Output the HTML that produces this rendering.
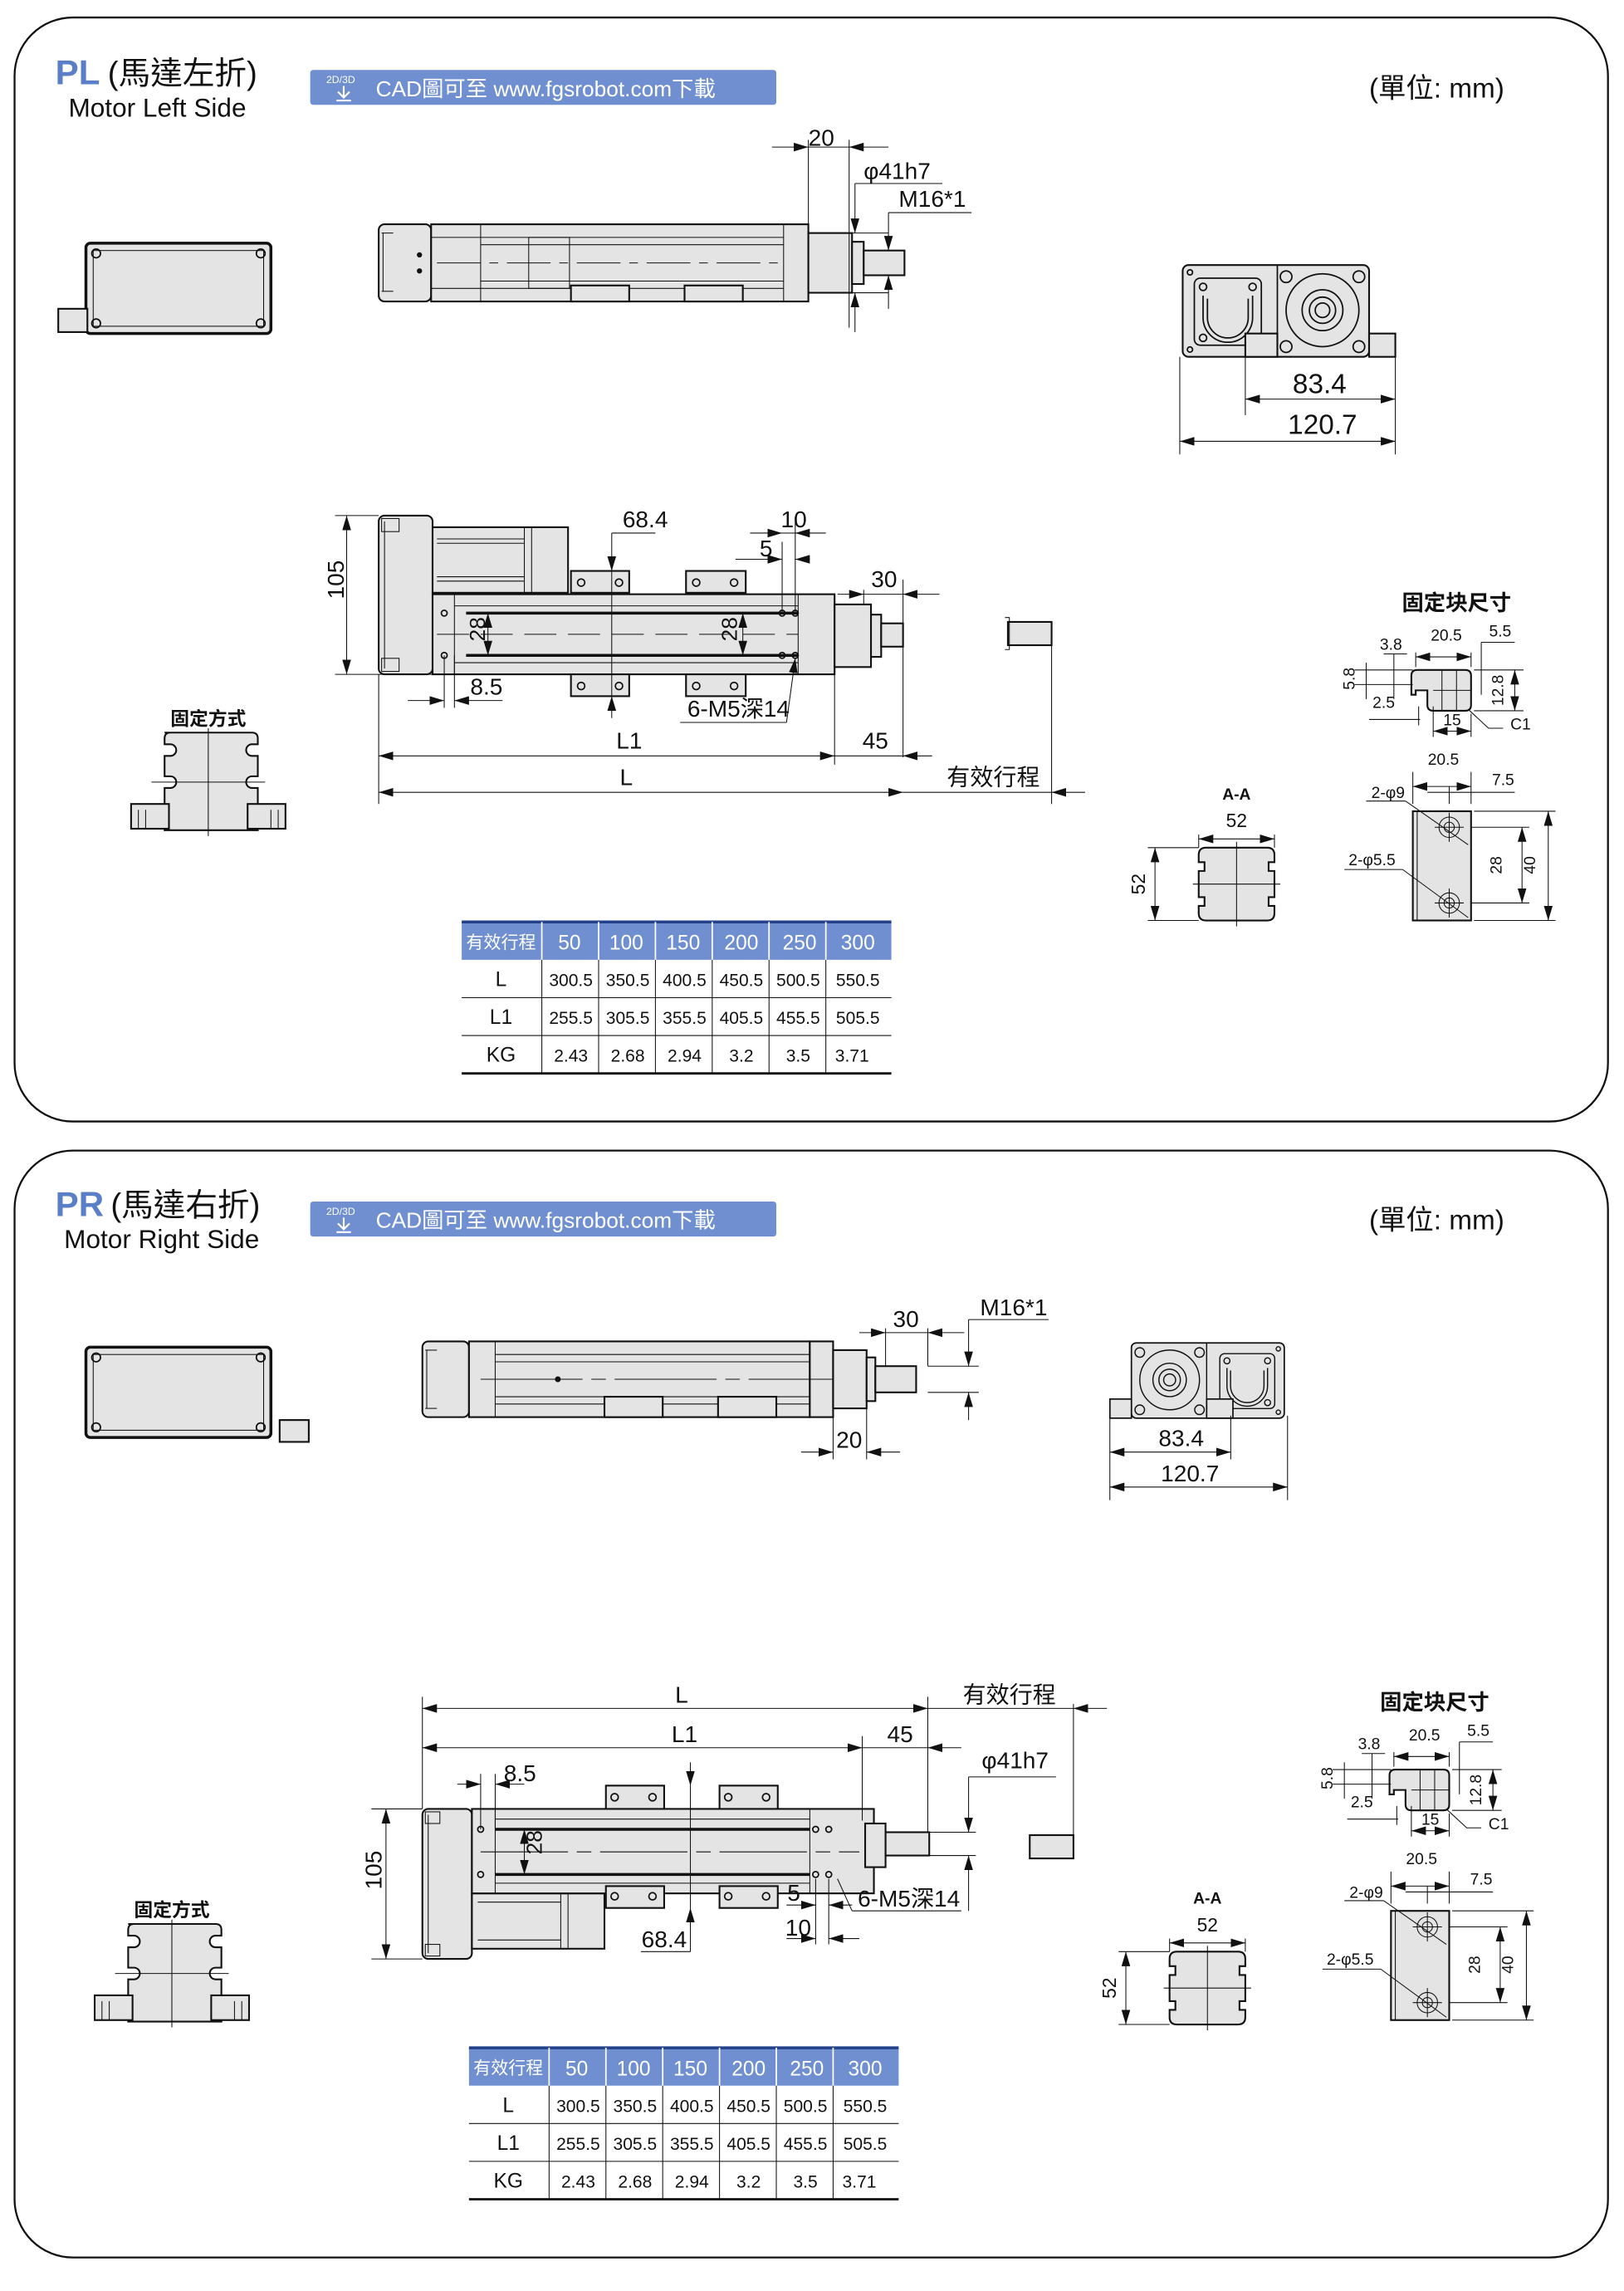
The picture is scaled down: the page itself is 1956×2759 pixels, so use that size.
<!DOCTYPE html>
<html><head><meta charset="utf-8"><style>
html,body{margin:0;padding:0;background:#fff}
svg{display:block}
text{font-family:"Liberation Sans","Noto Sans CJK TC",sans-serif;fill:#111}
.s{stroke:#111;stroke-width:1;fill:none}
.g{stroke:#111;stroke-width:1.2;fill:#e4e4e4}
.t{stroke:#111;stroke-width:.6;fill:none}
.th{stroke:#111;stroke-width:2;fill:none}
</style></head><body>
<svg width="1956" height="2759" viewBox="0 0 1115 1573" preserveAspectRatio="none" xmlns="http://www.w3.org/2000/svg">
<defs>
<marker id="a" viewBox="0 0 10 6" refX="10" refY="3" markerWidth="10" markerHeight="6" orient="auto-start-reverse" markerUnits="userSpaceOnUse"><path d="M0,0L10,3L0,6z" fill="#111"/></marker>

<g id="tbl">
<rect x="0" y="0" width="295" height="26" fill="#6f8fd0"/>
<line x1="0" y1="0" x2="295" y2="0" stroke="#23408a" stroke-width="2"/>
<g fill="#fff" style="font-size:14px" text-anchor="middle">
<text x="27" y="18" style="font-size:12px;fill:#fff">有效行程</text>
<text x="74" y="19" style="fill:#fff">50</text><text x="113" y="19" style="fill:#fff">100</text><text x="152" y="19" style="fill:#fff">150</text><text x="192" y="19" style="fill:#fff">200</text><text x="232" y="19" style="fill:#fff">250</text><text x="272" y="19" style="fill:#fff">300</text>
</g>
<g stroke="#fff" stroke-width="1"><line x1="55" y1="0" x2="55" y2="26"/><line x1="94" y1="0" x2="94" y2="26"/><line x1="133" y1="0" x2="133" y2="26"/><line x1="172" y1="0" x2="172" y2="26"/><line x1="211" y1="0" x2="211" y2="26"/><line x1="250" y1="0" x2="250" y2="26"/></g>
<g class="t"><line x1="0" y1="52" x2="295" y2="52"/><line x1="0" y1="78" x2="295" y2="78"/>
<line x1="55" y1="26" x2="55" y2="104"/><line x1="94" y1="26" x2="94" y2="104"/><line x1="133" y1="26" x2="133" y2="104"/><line x1="172" y1="26" x2="172" y2="104"/><line x1="211" y1="26" x2="211" y2="104"/><line x1="250" y1="26" x2="250" y2="104"/></g>
<line x1="0" y1="104" x2="295" y2="104" stroke="#111" stroke-width="1.6"/>
<g style="font-size:12px" text-anchor="middle">
<text x="27" y="44" style="font-size:14px">L</text><text x="27" y="70" style="font-size:14px">L1</text><text x="27" y="96" style="font-size:14px">KG</text>
<text x="75" y="44">300.5</text><text x="114" y="44">350.5</text><text x="153" y="44">400.5</text><text x="192" y="44">450.5</text><text x="231" y="44">500.5</text><text x="272" y="44">550.5</text>
<text x="75" y="70">255.5</text><text x="114" y="70">305.5</text><text x="153" y="70">355.5</text><text x="192" y="70">405.5</text><text x="231" y="70">455.5</text><text x="272" y="70">505.5</text>
<text x="75" y="96">2.43</text><text x="114" y="96">2.68</text><text x="153" y="96">2.94</text><text x="192" y="96">3.2</text><text x="231" y="96">3.5</text><text x="268" y="96">3.71</text>
</g>
</g>

<g id="fb">
<text x="1000" y="419" text-anchor="middle" style="font-size:15px;font-weight:bold">固定块尺寸</text>
<path class="g" d="M973,460 h33 q4,0 4,4 v20 q0,4 -4,4 h-22 q-4,0 -4,-4 v-10 h-8 v3 h-3 v-13 q0,-4 4,-4z"/>
<line class="t" x1="990" y1="460" x2="990" y2="488"/><line class="t" x1="1000" y1="460" x2="1000" y2="488"/><line class="t" x1="984" y1="474" x2="1010" y2="474"/>
<g class="t">
<line x1="972" y1="448" x2="972" y2="458"/><line x1="1010" y1="448" x2="1010" y2="458"/>
<line x1="972" y1="451" x2="1010" y2="451" marker-start="url(#a)" marker-end="url(#a)"/>
<line x1="1017" y1="441" x2="1040" y2="441"/><line x1="1017" y1="441" x2="1017" y2="477"/>
<line x1="1012" y1="460" x2="1046" y2="460"/><line x1="1012" y1="488" x2="1046" y2="488"/><line x1="1040" y1="460" x2="1040" y2="488" marker-start="url(#a)" marker-end="url(#a)"/>
<line x1="950" y1="449" x2="966" y2="449"/><line x1="957" y1="449" x2="957" y2="480"/>
<line x1="930" y1="460" x2="970" y2="460"/><line x1="930" y1="470" x2="970" y2="470"/><line x1="938" y1="455" x2="938" y2="480"/>
<line x1="940" y1="494" x2="975" y2="494"/><line x1="974" y1="485" x2="974" y2="498"/><line x1="984" y1="485" x2="984" y2="506"/>
<line x1="984" y1="502" x2="1010" y2="502" marker-start="url(#a)" marker-end="url(#a)"/><line x1="1010" y1="490" x2="1010" y2="506"/>
<path d="M1008,487 L1022,500 H1032"/>
</g>
<g style="font-size:11px" text-anchor="middle">
<text x="955" y="446">3.8</text><text x="993" y="440">20.5</text><text x="1030" y="437">5.5</text>
<text x="950" y="486">2.5</text><text x="997" y="498">15</text><text x="1044" y="501">C1</text>
<text transform="translate(930,466) rotate(-90)">5.8</text><text transform="translate(1032,474) rotate(-90)">12.8</text>
</g>
<rect class="g" x="970" y="557" width="40" height="75"/>
<line class="t" x1="973" y1="557" x2="973" y2="632"/>
<g class="t"><circle cx="995" cy="568" r="7"/><circle cx="995" cy="568" r="3.5"/><circle cx="995" cy="620" r="7"/><circle cx="995" cy="620" r="3.5"/>
<line x1="995" y1="558" x2="995" y2="578"/><line x1="985" y1="568" x2="1005" y2="568"/><line x1="995" y1="610" x2="995" y2="630"/><line x1="985" y1="620" x2="1005" y2="620"/>
<line x1="970" y1="530" x2="970" y2="552"/><line x1="1010" y1="530" x2="1010" y2="552"/><line x1="970" y1="540" x2="1010" y2="540" marker-start="url(#a)" marker-end="url(#a)"/>
<line x1="980" y1="544" x2="1040" y2="544"/><line x1="995" y1="540" x2="995" y2="552"/>
<line x1="938" y1="550" x2="965" y2="550"/><line x1="965" y1="550" x2="1008" y2="580"/>
<line x1="923" y1="597" x2="963" y2="597"/><line x1="963" y1="597" x2="1008" y2="630"/>
<line x1="1010" y1="568" x2="1050" y2="568"/><line x1="1010" y1="620" x2="1050" y2="620"/><line x1="1045" y1="568" x2="1045" y2="620" marker-start="url(#a)" marker-end="url(#a)"/>
<line x1="1012" y1="557" x2="1068" y2="557"/><line x1="1012" y1="632" x2="1068" y2="632"/><line x1="1063" y1="557" x2="1063" y2="632" marker-start="url(#a)" marker-end="url(#a)"/>
</g>
<g style="font-size:11px" text-anchor="middle">
<text x="991" y="525">20.5</text><text x="1032" y="539">7.5</text><text x="953" y="548">2-φ9</text><text x="942" y="594">2-φ5.5</text>
<text transform="translate(1031,594) rotate(-90)">28</text><text transform="translate(1054,594) rotate(-90)">40</text>
</g>
</g>

<g id="aa">
<text x="849" y="549" text-anchor="middle" style="font-size:11px;font-weight:bold">A-A</text>
<text x="849" y="568" text-anchor="middle" style="font-size:13px">52</text>
<line class="t" x1="823" y1="573" x2="823" y2="582"/><line class="t" x1="875" y1="573" x2="875" y2="582"/>
<line class="t" x1="823" y1="576" x2="875" y2="576" marker-start="url(#a)" marker-end="url(#a)"/>
<path class="g" d="M828,582 h42 q5,0 5,5 v5 h-4 v6 h4 v18 h-4 v6 h4 v5 q0,5 -5,5 h-42 q-5,0 -5,-5 v-5 h4 v-6 h-4 v-18 h4 v-6 h-4 v-5 q0,-5 5,-5z"/>
<line class="t" x1="849" y1="578" x2="849" y2="636"/><line class="t" x1="819" y1="607" x2="879" y2="607"/>
<line class="t" x1="788" y1="582" x2="823" y2="582"/><line class="t" x1="788" y1="632" x2="823" y2="632"/>
<line class="t" x1="793" y1="582" x2="793" y2="632" marker-start="url(#a)" marker-end="url(#a)"/>
<text transform="translate(786,607) rotate(-90)" text-anchor="middle" style="font-size:13px">52</text>
</g>

<g id="pf">
<text x="143" y="498" text-anchor="middle" style="font-size:13px;font-weight:bold">固定方式</text>
<path class="g" d="M113,503 h60 q4,0 4,4 v4 h-4 a4,4 0 0 0 0,8 h4 v14 h-4 a4,4 0 0 0 0,8 h4 v29 h-64 v-29 h4 a4,4 0 0 0 0,-8 h-4 v-14 h4 a4,4 0 0 0 0,-8 h-4 v-4 q0,-4 4,-4z"/>
<rect class="g" x="90" y="552" width="26" height="17"/><rect class="g" x="170" y="552" width="26" height="17"/>
<g class="t"><line x1="95" y1="556" x2="95" y2="569"/><line x1="100" y1="556" x2="100" y2="569"/><line x1="186" y1="556" x2="186" y2="569"/><line x1="191" y1="556" x2="191" y2="569"/>
<line x1="143" y1="500" x2="143" y2="574"/><line x1="104" y1="537" x2="182" y2="537"/></g>
</g>

<g id="mb">
<rect x="59" y="167" width="127" height="62" rx="3" fill="#e4e4e4" stroke="#111" stroke-width="2"/>
<rect x="64" y="172" width="117" height="52" class="t"/>
<g class="s"><circle cx="66" cy="174" r="3"/><circle cx="179" cy="174" r="3"/><circle cx="66" cy="222" r="3"/><circle cx="179" cy="222" r="3"/></g>
</g>

<g id="badge">
<rect x="213" y="48" width="320" height="24" rx="2" fill="#6f8fd0"/>
<text x="224" y="57" style="font-size:7px;fill:#fff">2D/3D</text>
<path d="M236,59 v7 M232,63 l4,4 l4,-4 M231,69 h10" stroke="#fff" stroke-width="1.2" fill="none"/>
<text x="258" y="66" style="font-size:15px;fill:#fff">CAD圖可至 www.fgsrobot.com下載</text>
<text x="940" y="67" style="font-size:19px">(單位: mm)</text>
</g>

<g id="ev">
<rect class="g" x="812" y="182" width="128" height="63" rx="4"/>
<line class="s" x1="877" y1="182" x2="877" y2="245"/>
<rect class="s" x="820" y="191" width="46" height="46" rx="4" stroke-width="1.5"/>
<path class="s" stroke-width="1.5" d="M826,203 v15 a17,17 0 0 0 34,0 v-15 M829,205 v13 a14,14 0 0 0 28,0 v-13"/>
<circle class="s" cx="908" cy="213" r="25"/><circle class="s" cx="908" cy="213" r="14" stroke-width="1.5"/><circle class="s" cx="908" cy="213" r="9" stroke-width="2"/><circle class="s" cx="908" cy="213" r="5"/>
<g class="s"><circle cx="883" cy="190" r="4"/><circle cx="933" cy="190" r="4"/><circle cx="883" cy="238" r="4"/><circle cx="933" cy="238" r="4"/>
<circle cx="817" cy="187" r="1.8"/><circle cx="817" cy="240" r="1.8"/><circle cx="826" cy="197" r="2.5"/><circle cx="860" cy="197" r="2.5"/><circle cx="826" cy="232" r="2.5"/><circle cx="860" cy="232" r="2.5"/></g>
<rect class="g" x="855" y="229" width="22" height="16"/>
<rect class="g" x="940" y="229" width="18" height="16"/>
</g>
</defs>

<rect x="10" y="12" width="1094" height="758" rx="40" fill="none" stroke="#111" stroke-width="1.3"/>
<rect x="10" y="790" width="1094" height="760" rx="40" fill="none" stroke="#111" stroke-width="1.3"/>

<!-- TOP PANEL -->
<text x="38" y="58" style="font-size:24px;font-weight:bold;fill:#5b7fc7">PL</text>
<text x="74" y="58" style="font-size:22px">(馬達左折)</text>
<text x="47" y="80" style="font-size:18px">Motor Left Side</text>
<use href="#badge"/>
<use href="#mb"/>
<rect class="g" x="40" y="212" width="20" height="16"/>

<rect class="g" x="260" y="154" width="36" height="53" rx="4"/>
<rect class="g" x="296" y="154" width="259" height="53"/>
<g class="t"><line x1="263" y1="160" x2="263" y2="200"/><line x1="262" y1="160" x2="270" y2="160"/><line x1="262" y1="200" x2="270" y2="200"/>
<line x1="330" y1="154" x2="330" y2="207"/><line x1="538" y1="154" x2="538" y2="207"/>
<line x1="296" y1="163" x2="538" y2="163"/><line x1="296" y1="198" x2="538" y2="198"/>
<line x1="330" y1="168" x2="538" y2="168"/><line x1="330" y1="193" x2="538" y2="193"/>
<rect x="363" y="163" width="28" height="35"/>
<line x1="300" y1="180.5" x2="540" y2="180.5" stroke-dasharray="30 6 6 6"/></g>
<rect class="g" x="392" y="196" width="40" height="11"/><rect class="g" x="470" y="196" width="40" height="11"/>
<g fill="#111"><circle cx="288" cy="175" r="1.8"/><circle cx="288" cy="186" r="1.8"/></g>
<rect class="g" x="555" y="160" width="30" height="41"/>
<rect class="g" x="585" y="166" width="8" height="29"/>
<rect class="g" x="593" y="172" width="28" height="17"/>
<g class="t">
<line x1="555" y1="96" x2="555" y2="155"/><line x1="583" y1="96" x2="583" y2="225"/>
<line x1="530" y1="101" x2="555" y2="101" marker-end="url(#a)"/><line x1="610" y1="101" x2="583" y2="101" marker-end="url(#a)"/>
<line x1="555" y1="101" x2="583" y2="101"/>
<line x1="585" y1="160" x2="610" y2="160"/><line x1="585" y1="201" x2="610" y2="201"/>
<line x1="587" y1="126" x2="647" y2="126"/><line x1="587" y1="126" x2="587" y2="160" marker-end="url(#a)"/><line x1="587" y1="228" x2="587" y2="201" marker-end="url(#a)"/>
<line x1="610" y1="146" x2="667" y2="146"/><line x1="610" y1="146" x2="610" y2="172" marker-end="url(#a)"/><line x1="610" y1="212" x2="610" y2="189" marker-end="url(#a)"/>
</g>
<text x="555" y="100" style="font-size:16px">20</text>
<text x="593" y="123" style="font-size:16px">φ41h7</text>
<text x="617" y="142" style="font-size:16px">M16*1</text>

<use href="#ev"/>
<g class="t">
<line x1="810" y1="245" x2="810" y2="312"/><line x1="855" y1="245" x2="855" y2="285"/><line x1="958" y1="245" x2="958" y2="312"/>
<line x1="855" y1="274" x2="958" y2="274" marker-start="url(#a)" marker-end="url(#a)"/>
<line x1="810" y1="303" x2="958" y2="303" marker-start="url(#a)" marker-end="url(#a)"/>
</g>
<text x="906" y="270" text-anchor="middle" style="font-size:19px">83.4</text>
<text x="908" y="298" text-anchor="middle" style="font-size:19px">120.7</text>

<rect class="g" x="260" y="354" width="37" height="109" rx="4"/>
<g class="t"><line x1="264" y1="358" x2="264" y2="459"/><rect x="262" y="356" width="12" height="9"/><rect x="262" y="452" width="12" height="9"/></g>
<rect class="g" x="297" y="362" width="93" height="45"/>
<g class="t"><line x1="300" y1="370" x2="360" y2="370"/><line x1="300" y1="373" x2="360" y2="373"/><line x1="300" y1="396" x2="360" y2="396"/><line x1="300" y1="399" x2="360" y2="399"/><line x1="360" y1="362" x2="360" y2="407"/><line x1="365" y1="362" x2="365" y2="407"/></g>
<rect class="g" x="297" y="408" width="276" height="55"/>
<g class="t"><line x1="312" y1="408" x2="312" y2="463"/><line x1="548" y1="408" x2="548" y2="463"/>
<line x1="312" y1="416" x2="548" y2="416"/><line x1="312" y1="455" x2="548" y2="455"/></g>
<g class="th"><line x1="320" y1="421" x2="548" y2="421"/><line x1="320" y1="450" x2="548" y2="450"/></g>
<line class="t" x1="300" y1="435.5" x2="548" y2="435.5" stroke-dasharray="22 8"/>
<rect class="g" x="392" y="392" width="40" height="15"/><rect class="g" x="471" y="392" width="41" height="15"/>
<rect class="g" x="392" y="463" width="40" height="15"/><rect class="g" x="471" y="463" width="41" height="15"/>
<g class="s"><circle cx="399" cy="400" r="2.5"/><circle cx="425" cy="400" r="2.5"/><circle cx="478" cy="400" r="2.5"/><circle cx="504" cy="400" r="2.5"/>
<circle cx="399" cy="471" r="2.5"/><circle cx="425" cy="471" r="2.5"/><circle cx="478" cy="471" r="2.5"/><circle cx="504" cy="471" r="2.5"/>
<circle cx="305" cy="421" r="2"/><circle cx="305" cy="450" r="2"/><circle cx="537" cy="421" r="2"/><circle cx="537" cy="450" r="2"/><circle cx="546" cy="421" r="2"/><circle cx="546" cy="450" r="2"/></g>
<rect class="g" x="573" y="415" width="25" height="43"/>
<rect class="g" x="598" y="422" width="7" height="29"/>
<rect class="g" x="605" y="428" width="15" height="16"/>
<rect class="g" x="692" y="427" width="30" height="16"/>
<path class="t" d="M690,424 h3 v22 h-3"/>
<g class="t">
<line x1="230" y1="354" x2="260" y2="354"/><line x1="230" y1="463" x2="297" y2="463"/>
<line x1="238" y1="354" x2="238" y2="463" marker-start="url(#a)" marker-end="url(#a)"/>
<line x1="420" y1="366" x2="450" y2="366"/><line x1="420" y1="366" x2="420" y2="392" marker-end="url(#a)"/><line x1="420" y1="493" x2="420" y2="478" marker-end="url(#a)"/><line x1="420" y1="392" x2="420" y2="478"/>
<line x1="537" y1="372" x2="537" y2="420"/><line x1="546" y1="355" x2="546" y2="420"/>
<line x1="515" y1="366" x2="537" y2="366" marker-end="url(#a)"/><line x1="567" y1="366" x2="546" y2="366" marker-end="url(#a)"/><line x1="537" y1="366" x2="546" y2="366"/>
<line x1="505" y1="384" x2="537" y2="384" marker-end="url(#a)"/><line x1="556" y1="384" x2="546" y2="384" marker-end="url(#a)"/>
<line x1="593" y1="405" x2="593" y2="415"/><line x1="620" y1="398" x2="620" y2="520"/>
<line x1="575" y1="408" x2="593" y2="408" marker-end="url(#a)"/><line x1="645" y1="408" x2="620" y2="408" marker-end="url(#a)"/><line x1="593" y1="408" x2="620" y2="408"/>
<line x1="335" y1="421" x2="335" y2="450" marker-start="url(#a)" marker-end="url(#a)"/>
<line x1="510" y1="421" x2="510" y2="450" marker-start="url(#a)" marker-end="url(#a)"/>
<line x1="305" y1="450" x2="305" y2="486"/><line x1="312" y1="450" x2="312" y2="486"/>
<line x1="280" y1="481" x2="305" y2="481" marker-end="url(#a)"/><line x1="345" y1="481" x2="312" y2="481" marker-end="url(#a)"/>
<line x1="467" y1="496" x2="540" y2="496"/><line x1="540" y1="496" x2="546" y2="452" marker-end="url(#a)"/>
<line x1="260" y1="463" x2="260" y2="552"/><line x1="573" y1="458" x2="573" y2="525"/><line x1="722" y1="443" x2="722" y2="552"/>
<line x1="260" y1="519" x2="573" y2="519" marker-start="url(#a)" marker-end="url(#a)"/><line x1="573" y1="519" x2="620" y2="519"/><line x1="640" y1="519" x2="620" y2="519" marker-end="url(#a)"/>
<line x1="260" y1="544" x2="620" y2="544" marker-start="url(#a)" marker-end="url(#a)"/><line x1="620" y1="544" x2="722" y2="544"/><line x1="745" y1="544" x2="722" y2="544" marker-end="url(#a)"/>
</g>
<text transform="translate(236,398) rotate(-90)" text-anchor="middle" style="font-size:16px">105</text>
<text transform="translate(333,432) rotate(-90)" text-anchor="middle" style="font-size:15px">28</text>
<text transform="translate(506,432) rotate(-90)" text-anchor="middle" style="font-size:15px">28</text>
<g style="font-size:16px" text-anchor="middle">
<text x="443" y="362">68.4</text><text x="545" y="362">10</text><text x="526" y="382">5</text><text x="607" y="403">30</text>
<text x="334" y="477">8.5</text><text x="507" y="492">6-M5深14</text>
<text x="432" y="514">L1</text><text x="601" y="514">45</text><text x="430" y="539">L</text><text x="682" y="539">有效行程</text>
</g>
<use href="#pf"/>
<use href="#fb"/>
<use href="#aa"/>
<use href="#tbl" transform="translate(317,633)"/>

<!-- BOTTOM PANEL -->
<text x="38" y="835" style="font-size:24px;font-weight:bold;fill:#5b7fc7">PR</text>
<text x="76" y="835" style="font-size:22px">(馬達右折)</text>
<text x="44" y="857" style="font-size:18px">Motor Right Side</text>
<use href="#badge" transform="translate(0,777)"/>
<use href="#mb" transform="translate(0,758)"/>
<rect class="g" x="192" y="975" width="20" height="15"/>

<rect class="g" x="290" y="921" width="32" height="52" rx="4"/>
<rect class="g" x="322" y="921" width="234" height="52"/>
<rect class="g" x="556" y="921" width="16" height="52"/>
<g class="t"><line x1="293" y1="927" x2="293" y2="967"/><line x1="292" y1="927" x2="300" y2="927"/><line x1="292" y1="967" x2="300" y2="967"/>
<line x1="340" y1="921" x2="340" y2="973"/>
<line x1="340" y1="930" x2="556" y2="930"/><line x1="340" y1="964" x2="556" y2="964"/>
<line x1="340" y1="935" x2="556" y2="935"/><line x1="340" y1="959" x2="556" y2="959"/>
<line x1="330" y1="947" x2="600" y2="947" stroke-dasharray="70 6 10 6"/></g>
<rect class="g" x="415" y="959" width="40" height="14"/><rect class="g" x="493" y="959" width="40" height="14"/>
<circle cx="383" cy="947" r="2" fill="#111"/>
<rect class="g" x="572" y="927" width="23" height="40"/>
<rect class="g" x="595" y="932" width="6" height="30"/>
<rect class="g" x="601" y="938" width="28" height="18"/>
<g class="t">
<line x1="608" y1="912" x2="608" y2="938"/><line x1="637" y1="912" x2="637" y2="938"/>
<line x1="590" y1="915" x2="608" y2="915" marker-end="url(#a)"/><line x1="662" y1="915" x2="637" y2="915" marker-end="url(#a)"/><line x1="608" y1="915" x2="637" y2="915"/>
<line x1="637" y1="938" x2="672" y2="938"/><line x1="637" y1="956" x2="672" y2="956"/>
<line x1="665" y1="906" x2="720" y2="906"/><line x1="665" y1="906" x2="665" y2="938" marker-end="url(#a)"/><line x1="665" y1="975" x2="665" y2="956" marker-end="url(#a)"/>
<line x1="572" y1="973" x2="572" y2="1002"/><line x1="595" y1="967" x2="595" y2="1002"/>
<line x1="550" y1="997" x2="572" y2="997" marker-end="url(#a)"/><line x1="618" y1="997" x2="595" y2="997" marker-end="url(#a)"/>
</g>
<g style="font-size:16px" text-anchor="middle"><text x="622" y="911">30</text><text x="696" y="903">M16*1</text><text x="583" y="994">20</text></g>

<use href="#ev" transform="translate(1547.6,772.8) scale(-0.82,0.82)"/>
<g class="t">
<line x1="762" y1="972" x2="762" y2="1030"/><line x1="845" y1="972" x2="845" y2="1002"/><line x1="884" y1="972" x2="884" y2="1030"/>
<line x1="762" y1="997" x2="845" y2="997" marker-start="url(#a)" marker-end="url(#a)"/>
<line x1="762" y1="1021" x2="884" y2="1021" marker-start="url(#a)" marker-end="url(#a)"/>
</g>
<text x="811" y="993" text-anchor="middle" style="font-size:16px">83.4</text>
<text x="817" y="1017" text-anchor="middle" style="font-size:16px">120.7</text>

<rect class="g" x="290" y="1242" width="34" height="103" rx="4"/>
<g class="t"><line x1="294" y1="1246" x2="294" y2="1341"/><rect x="292" y="1244" width="10" height="8"/><rect x="292" y="1335" width="10" height="8"/></g>
<rect class="g" x="324" y="1300" width="91" height="38"/>
<g class="t"><line x1="328" y1="1306" x2="385" y2="1306"/><line x1="328" y1="1332" x2="385" y2="1332"/><line x1="385" y1="1300" x2="385" y2="1338"/><line x1="390" y1="1300" x2="390" y2="1338"/></g>
<rect class="g" x="324" y="1242" width="276" height="58"/>
<g class="t"><line x1="340" y1="1242" x2="340" y2="1300"/><line x1="556" y1="1242" x2="556" y2="1300"/>
<line x1="340" y1="1249" x2="556" y2="1249"/><line x1="340" y1="1293" x2="556" y2="1293"/></g>
<g class="th"><line x1="340" y1="1256" x2="556" y2="1256"/><line x1="340" y1="1287" x2="556" y2="1287"/></g>
<line class="t" x1="330" y1="1271.5" x2="590" y2="1271.5" stroke-dasharray="60 6 10 6"/>
<rect class="g" x="416" y="1226" width="40" height="16"/><rect class="g" x="494" y="1226" width="40" height="16"/>
<rect class="g" x="416" y="1295" width="40" height="15"/><rect class="g" x="494" y="1295" width="40" height="15"/>
<g class="s"><circle cx="422" cy="1234" r="2.5"/><circle cx="448" cy="1234" r="2.5"/><circle cx="500" cy="1234" r="2.5"/><circle cx="526" cy="1234" r="2.5"/>
<circle cx="422" cy="1302" r="2.5"/><circle cx="448" cy="1302" r="2.5"/><circle cx="500" cy="1302" r="2.5"/><circle cx="526" cy="1302" r="2.5"/>
<circle cx="330" cy="1256" r="2"/><circle cx="330" cy="1287" r="2"/><circle cx="560" cy="1256" r="2"/><circle cx="560" cy="1287" r="2"/><circle cx="569" cy="1256" r="2"/><circle cx="569" cy="1287" r="2"/></g>
<rect class="g" x="594" y="1252" width="14" height="30"/>
<rect class="g" x="608" y="1258" width="30" height="16"/>
<rect class="g" x="707" y="1260" width="30" height="16"/>
<g class="t">
<line x1="255" y1="1242" x2="290" y2="1242"/><line x1="255" y1="1345" x2="290" y2="1345"/>
<line x1="265" y1="1242" x2="265" y2="1345" marker-start="url(#a)" marker-end="url(#a)"/>
<line x1="290" y1="1165" x2="290" y2="1242"/><line x1="592" y1="1192" x2="592" y2="1250"/><line x1="637" y1="1165" x2="637" y2="1258"/><line x1="737" y1="1170" x2="737" y2="1260"/>
<line x1="290" y1="1173" x2="637" y2="1173" marker-start="url(#a)" marker-end="url(#a)"/><line x1="637" y1="1173" x2="737" y2="1173"/><line x1="760" y1="1173" x2="737" y2="1173" marker-end="url(#a)"/>
<line x1="290" y1="1200" x2="592" y2="1200" marker-start="url(#a)" marker-end="url(#a)"/><line x1="592" y1="1200" x2="637" y2="1200"/><line x1="660" y1="1200" x2="637" y2="1200" marker-end="url(#a)"/>
<line x1="330" y1="1218" x2="330" y2="1256"/><line x1="340" y1="1218" x2="340" y2="1256"/>
<line x1="314" y1="1225" x2="330" y2="1225" marker-end="url(#a)"/><line x1="360" y1="1225" x2="340" y2="1225" marker-end="url(#a)"/>
<line x1="360" y1="1256" x2="360" y2="1287" marker-start="url(#a)" marker-end="url(#a)"/>
<line x1="638" y1="1258" x2="670" y2="1258"/><line x1="638" y1="1274" x2="670" y2="1274"/>
<line x1="665" y1="1220" x2="725" y2="1220"/><line x1="665" y1="1220" x2="665" y2="1258" marker-end="url(#a)"/><line x1="665" y1="1312" x2="665" y2="1274" marker-end="url(#a)"/>
<line x1="474" y1="1210" x2="474" y2="1226" marker-end="url(#a)"/><line x1="474" y1="1226" x2="474" y2="1310"/><line x1="474" y1="1340" x2="474" y2="1310" marker-end="url(#a)"/><line x1="440" y1="1340" x2="474" y2="1340"/>
<line x1="560" y1="1290" x2="560" y2="1335"/><line x1="569" y1="1290" x2="569" y2="1335"/>
<line x1="540" y1="1308" x2="560" y2="1308" marker-end="url(#a)"/><line x1="585" y1="1308" x2="569" y2="1308" marker-end="url(#a)"/>
<line x1="540" y1="1331" x2="560" y2="1331" marker-end="url(#a)"/><line x1="590" y1="1331" x2="569" y2="1331" marker-end="url(#a)"/>
<line x1="575" y1="1290" x2="585" y2="1312"/><line x1="585" y1="1312" x2="660" y2="1312"/>
</g>
<text transform="translate(262,1284) rotate(-90)" text-anchor="middle" style="font-size:16px">105</text>
<text transform="translate(372,1265) rotate(-90)" text-anchor="middle" style="font-size:15px">28</text>
<g style="font-size:16px" text-anchor="middle">
<text x="468" y="1169">L</text><text x="693" y="1169">有效行程</text><text x="470" y="1196">L1</text><text x="618" y="1196">45</text>
<text x="697" y="1214">φ41h7</text><text x="357" y="1223">8.5</text><text x="545" y="1305">5</text><text x="624" y="1309">6-M5深14</text>
<text x="456" y="1337">68.4</text><text x="548" y="1329">10</text>
</g>
<use href="#pf" transform="translate(-25,818)"/>
<use href="#fb" transform="translate(-15,755)"/>
<use href="#aa" transform="translate(-20,758)"/>
<use href="#tbl" transform="translate(322,1406)"/>
</svg>
</body></html>
